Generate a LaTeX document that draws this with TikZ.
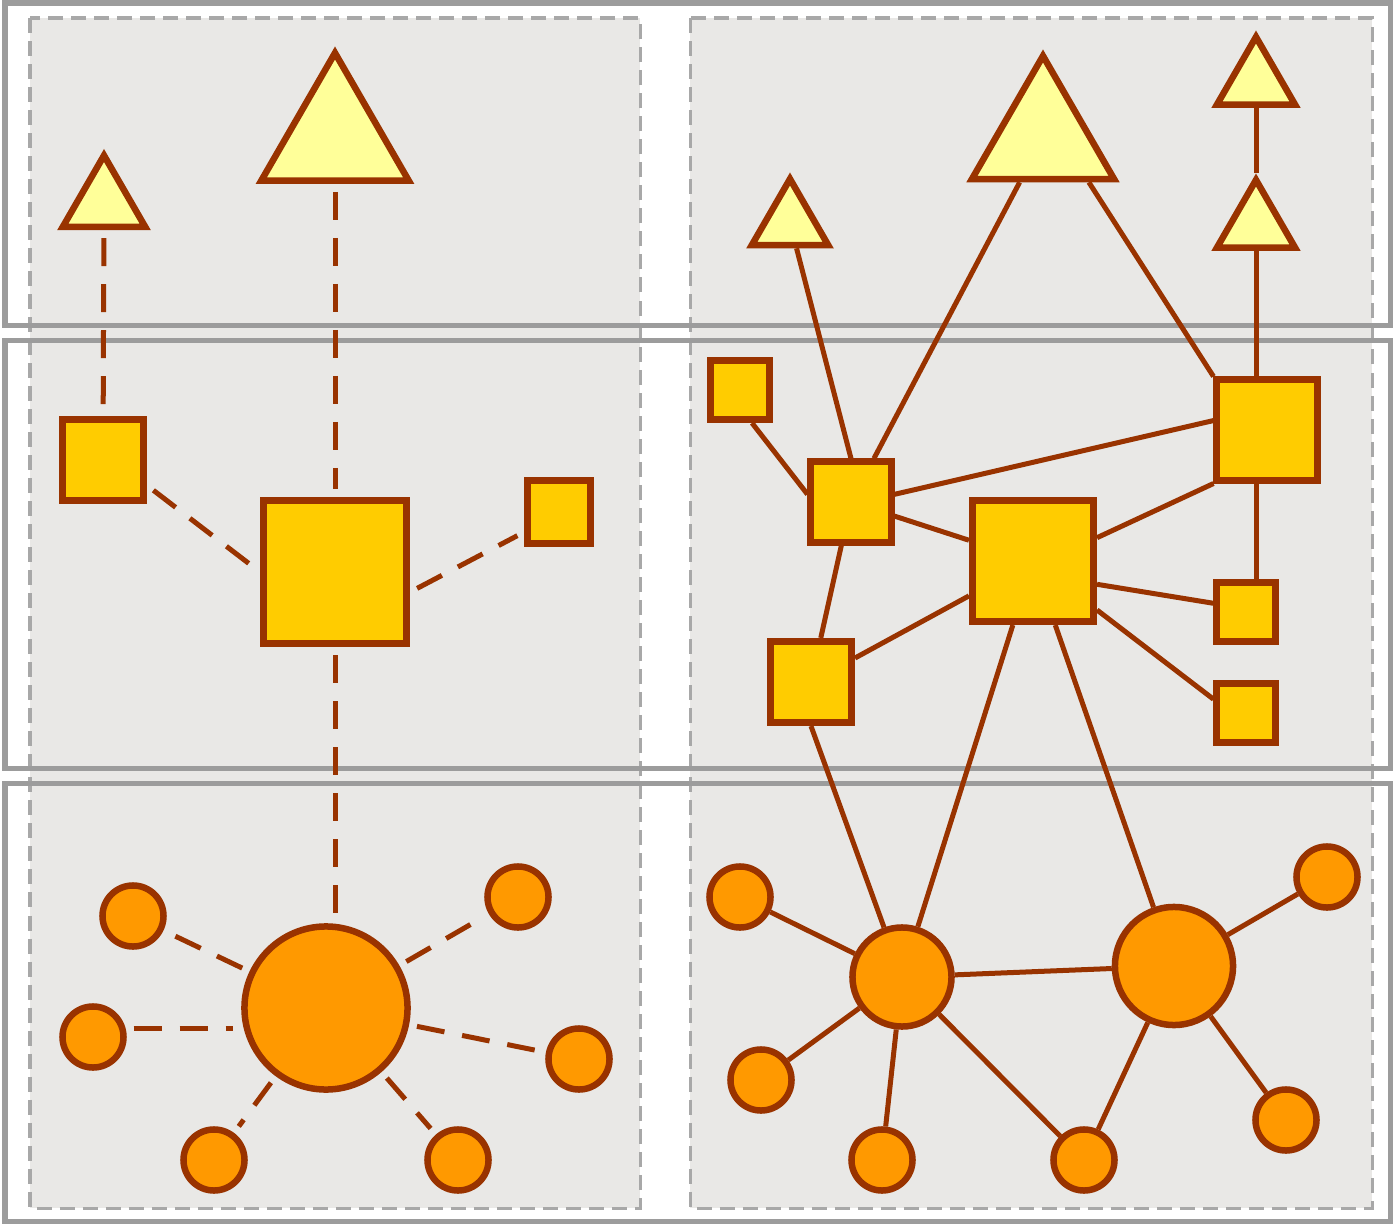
\documentclass[tikz,border=0pt]{standalone}
\usepackage{tikz}
\usetikzlibrary{shapes.geometric}
\definecolor{rust}{HTML}{993300}
\definecolor{paleyellow}{HTML}{FFFF99}
\definecolor{gold}{HTML}{FFCC00}
\definecolor{tangerine}{HTML}{FF9900}
\definecolor{panelgray}{HTML}{E9E8E6}
\definecolor{bandgray}{HTML}{9C9C9C}
\definecolor{dashgray}{HTML}{A8A8A8}

\begin{document}
\begin{tikzpicture}[x=0.01cm, y=-0.01cm,
  triang/.style={regular polygon, regular polygon sides=3, draw=rust, fill=paleyellow,
    line width=0.065cm, inner sep=0pt, minimum size=#1},
  squarebox/.style={rectangle, draw=rust, fill=gold, line width=0.07cm, inner sep=0pt, minimum size=#1},
  ball/.style={circle, draw=rust, fill=tangerine, line width=0.065cm, inner sep=0pt, minimum size=#1},
  link/.style={draw=rust, line width=0.05cm},
  weaklink/.style={link, dash pattern=on 0.28cm off 0.18cm, shorten <=0.08cm, shorten >=0.08cm},
  panel/.style={fill=panelgray, draw=dashgray, line width=0.03cm, dash pattern=on 0.15cm off 0.08cm},
  band/.style={draw=bandgray, line width=0.05cm}]
  \useasboundingbox (0,0) rectangle (1393,1224);

  % two panels
  \draw[panel] (30,18) rectangle (640,1208);
  \draw[panel] (690,18) rectangle (1372,1208);

  % three horizontal bands across both panels
  \draw[band] (5,3) rectangle (1390,325);
  \draw[band] (5,340) rectangle (1390,768);
  \draw[band] (5,783) rectangle (1390,1221);

  % left panel: star with dashed links
  \node[triang=0.95cm] (t1) at (104,203) {};
  \node[triang=1.70cm] (t2) at (335,138) {};
  \node[squarebox=0.81cm] (s1) at (103,460) {};
  \node[squarebox=1.43cm] (s2) at (335,572) {};
  \node[squarebox=0.62cm] (s3) at (559,512) {};
  \node[ball=1.63cm] (c1) at (326,1008) {};
  \foreach \n/\x/\y in {l1/133/916, l2/93/1037, l3/214/1160, l4/458/1160, l5/518/897, l6/579/1059}
    \node[ball=0.61cm] (\n) at (\x,\y) {};

  \draw[weaklink] (t1) -- (s1);
  \draw[weaklink] (t2) -- (s2);
  \draw[weaklink] (s2) -- (s2 |- c1.north);
  \draw[weaklink] (s1.330) -- (s2.west);
  \draw[weaklink] (s2.345) -- (s3.210);
  \draw[weaklink] (l2.15) -- (c1.west |- l2.15);
  \foreach \n in {l1,l3,l4,l5,l6}
    \draw[weaklink] (c1) -- (\n);

  % right panel: meshed network
  \node[triang=0.88cm] (t3) at (790,223) {};
  \node[triang=1.64cm] (t4) at (1043,138) {};
  \node[triang=0.90cm] (t5) at (1256,82) {};
  \node[triang=0.90cm] (t6) at (1256,225) {};
  \node[squarebox=0.59cm] (ra) at (740,390) {};
  \node[squarebox=0.80cm] (rb) at (851,502) {};
  \node[squarebox=1.21cm] (rc) at (1033,561) {};
  \node[squarebox=1.00cm] (rd) at (1267,430) {};
  \node[squarebox=0.58cm] (re) at (1246,612) {};
  \node[squarebox=0.58cm] (rf) at (1246,713) {};
  \node[squarebox=0.81cm] (rg) at (811,682) {};
  \node[ball=0.99cm] (h1) at (902,977) {};
  \node[ball=1.18cm] (h2) at (1174,966) {};
  \foreach \n/\x/\y in {r1/740/897, r2/761/1080, r3/882/1160, r4/1084/1160, r5/1286/1120, r6/1327/877}
    \node[ball=0.61cm] (\n) at (\x,\y) {};

  \draw[link] (t3) -- (rb.north);
  \draw[link] (t4) -- (rb);
  \draw[link] (t4.-44) -- (rd.north west);
  \draw[link] (t5) -- (t6.corner 1);
  \draw[link] (t6) -- (t6 |- rd.north);
  \draw[link] (rd.south -| t6) -- (re.north -| t6);
  \draw[link] (ra.-70) -- (rb.170);
  \draw[link] (rb.10) -- (rd.170);
  \draw[link] (rb) -- (rc);
  \draw[link] (rb) -- (rg);
  \draw[link] (rc.20) -- (rd.south west);
  \draw[link] (rc.-20) -- (re.165);
  \draw[link] (rc) -- (rf.157);
  \foreach \n in {rg,h1,h2}
    \draw[link] (rc) -- (\n);
  \draw[link] (rg.south) -- (h1);
  \draw[link] (h1) -- (h2);
  \foreach \n in {r1,r2,r3,r4}
    \draw[link] (h1) -- (\n);
  \foreach \n in {r4,r5,r6}
    \draw[link] (h2) -- (\n);
\end{tikzpicture}
\end{document}
